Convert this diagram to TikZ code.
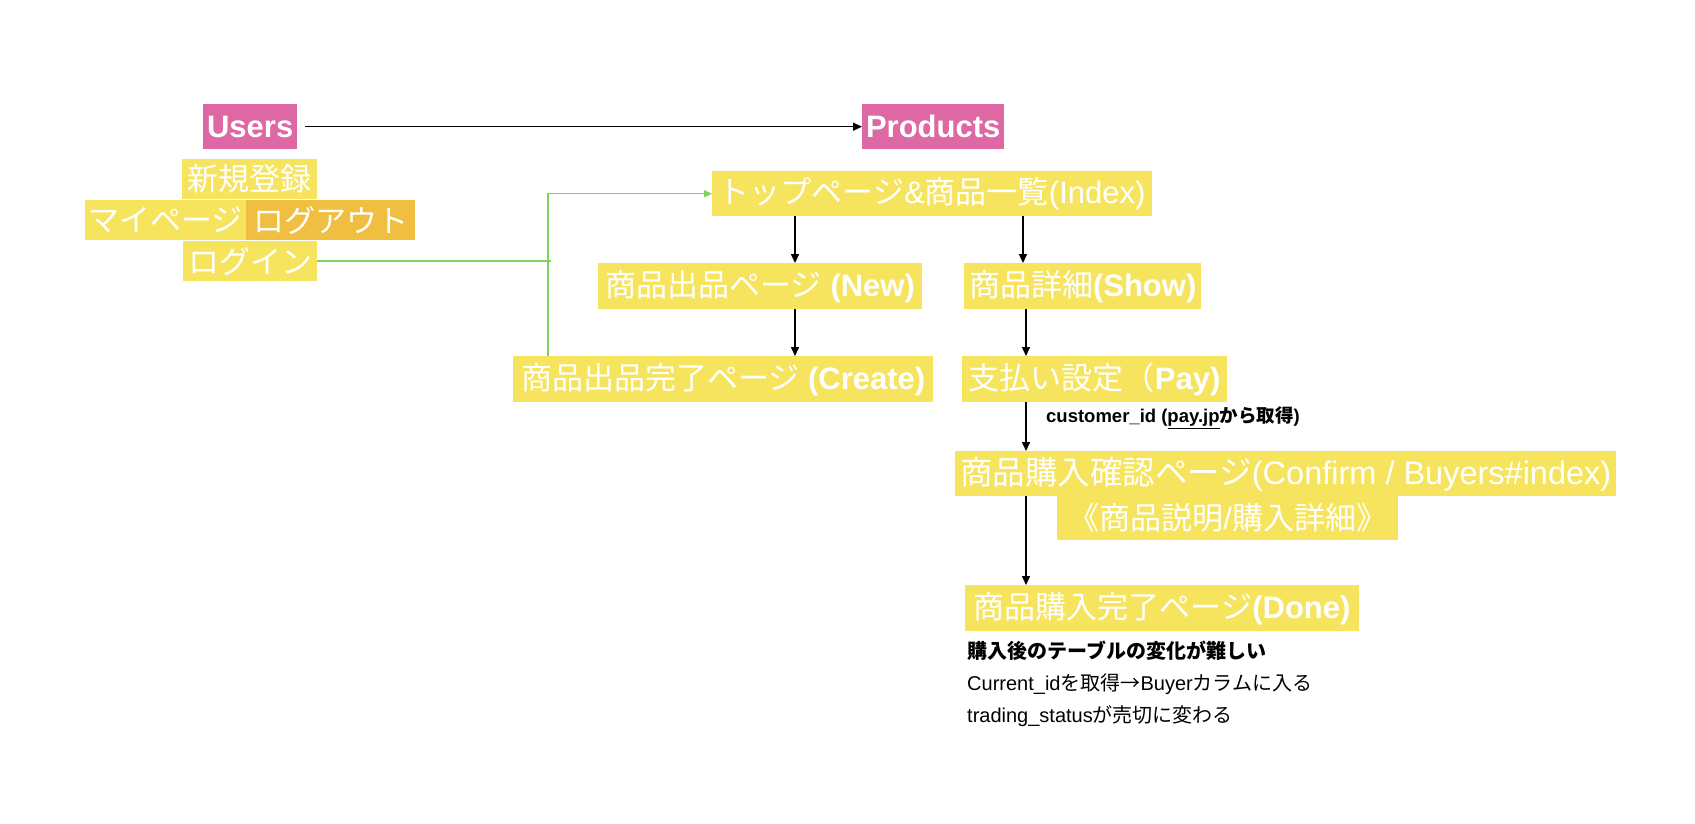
\documentclass[tikz,border=0pt]{standalone}
\usepackage{fontspec}
\setmainfont{Liberation Sans}
\newfontfamily\jpf{Noto Sans CJK JP}
\newcommand\jx[1]{{\jpf #1}}
\usetikzlibrary{arrows.meta}
\definecolor{pinkbox}{RGB}{222,104,164}
\definecolor{yelbox}{RGB}{246,228,94}
\definecolor{orgbox}{RGB}{240,190,64}
\definecolor{grnline}{RGB}{126,212,90}
\begin{document}
\begin{tikzpicture}[x=1pt,y=-1pt,
  bx/.style={fill=yelbox, text=white, inner sep=0pt, anchor=north west, font=\fontsize{31}{31}\selectfont},
  pbx/.style={bx, fill=pinkbox},
  obx/.style={bx, fill=orgbox},
  arr/.style={line width=1.5pt, -{Triangle[length=9pt,width=8pt]}},
  garr/.style={grnline, line width=1.5pt, -{Triangle[length=8pt,width=7pt]}},
  gline/.style={grnline, line width=1.5pt},
  note/.style={anchor=west, inner sep=0pt, text=black}]
\fill[white] (0,0) rectangle (1695,823);
\useasboundingbox (0,0) rectangle (1695,823);

\node[pbx, minimum width=94pt, minimum height=45pt] (users) at (203,104) {\textbf{Users}};
\node[pbx, minimum width=142pt, minimum height=45pt] (products) at (862,104) {\textbf{Products}};

\node[bx, minimum width=135pt, minimum height=40pt] (signup) at (182,159) {\jx{新規登録}};
\node[bx, minimum width=161pt, minimum height=40pt] (mypage) at (85,200) {\jx{マイページ}};
\node[obx, minimum width=169pt, minimum height=40pt] (logout) at (246,200) {\jx{ログアウト}};
\node[bx, minimum width=134pt, minimum height=40pt] (login) at (183,241) {\jx{ログイン}};

\node[bx, minimum width=440pt, minimum height=45pt] (index) at (712,171) {\jx{トップページ}\&\jx{商品一覧}(Index)};
\node[bx, minimum width=324pt, minimum height=46pt] (new) at (598,263) {\jx{商品出品ページ} \textbf{(New)}};
\node[bx, minimum width=237pt, minimum height=46pt] (show) at (964,263) {\jx{商品詳細}\textbf{(Show)}};
\node[bx, minimum width=420pt, minimum height=46pt] (create) at (513,356) {\jx{商品出品完了ページ} \textbf{(Create)}};
\node[bx, minimum width=265pt, minimum height=46pt] (pay) at (962,356) {\jx{支払い設定（}\textbf{Pay)}};
\node[bx, minimum width=661pt, minimum height=45pt, font=\fontsize{32.5}{32.5}\selectfont] (confirm) at (955,451) {\jx{商品購入確認ページ}(Confirm / Buyers\#index)};
\node[bx, minimum width=341pt, minimum height=44pt] (detail) at (1057,496) {\jx{《商品説明}/\jx{購入詳細》}};
\node[bx, minimum width=394pt, minimum height=46pt] (done) at (965,585) {\jx{商品購入完了ページ}\textbf{(Done)}};

\node[note, font=\bfseries\fontsize{18.5}{18.5}\selectfont] (cust) at (1046,418) {customer\_id (\underline{pay.jp}\jx{\bfseries から取得})};
\node[note, font=\bfseries\fontsize{20}{20}\selectfont] (n1) at (967,651) {\jx{\bfseries 購入後のテーブルの変化が難しい}};
\node[note, font=\fontsize{20}{20}\selectfont] (n2) at (967,684) {Current\_id\jx{を取得→}Buyer\jx{カラムに入る}};
\node[note, font=\fontsize{20}{20}\selectfont] (n3) at (967,716) {trading\_status\jx{が売切に変わる}};

\coordinate (colA) at (795,0);
\coordinate (colB) at (1023,0);
\coordinate (colC) at (1026,0);
\coordinate (gx) at (548,0);
\coordinate (gx2) at (551,0);

\draw[arr, shorten <=8pt] (users.east) -- (products.west);
\draw[arr] (index.south -| colA) -- (new.north -| colA);
\draw[arr] (new.south -| colA) -- (create.north -| colA);
\draw[arr] (index.south -| colB) -- (show.north -| colB);
\draw[arr] (show.south -| colC) -- (pay.north -| colC);
\draw[arr] (pay.south -| colC) -- (confirm.north -| colC);
\draw[arr] (confirm.south -| colC) -- (done.north -| colC);

\draw[garr] (create.north -| gx) |- (index.west);
\draw[gline] (login.east) -- (login.east -| gx2);
\end{tikzpicture}
\end{document}
